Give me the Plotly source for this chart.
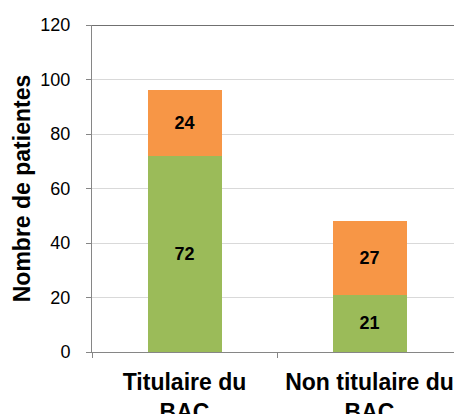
import plotly.graph_objects as go

categories = ["Titulaire du<br>BAC", "Non titulaire du<br>BAC"]
green_values = [72, 21]
orange_values = [24, 27]
y_ticks = [0, 20, 40, 60, 80, 100, 120]

font_family = "Liberation Sans, Arial, sans-serif"

fig = go.Figure()
for vals, color in ((green_values, "#9BBB59"), (orange_values, "#F79646")):
    fig.add_trace(go.Bar(
        x=categories, y=vals, marker=dict(color=color, line=dict(width=0)),
        text=[f"<b>{v}</b>" for v in vals], textposition="inside",
        insidetextanchor="middle", textangle=0,
        textfont=dict(color="black", size=18, family=font_family),
        width=0.4, showlegend=False,
    ))

fig.update_layout(
    barmode="stack",
    width=462, height=414,
    margin=dict(l=84, r=8, t=17, b=70),
    paper_bgcolor="white", plot_bgcolor="white",
    font=dict(family=font_family, color="black"),
    uniformtext=dict(minsize=10, mode="show"),
)
fig.update_yaxes(
    range=[0, 120], tickvals=y_ticks, showgrid=True, gridcolor="#D9D9D9", gridwidth=1,
    showline=True, linecolor="#868686", linewidth=1, ticks="outside", ticklen=5,
    tickcolor="#868686", tickfont=dict(size=18, color="black"), ticklabelstandoff=12,
    title=dict(text="<b>Nombre de patientes</b>", font=dict(size=23, color="black"), standoff=3),
    zeroline=False, automargin=False,
)
fig.update_xaxes(
    showline=True, linecolor="#868686", linewidth=1, ticks="outside", ticklen=5,
    tickcolor="#868686", tickson="boundaries", automargin=False, tickangle=0,
    tickfont=dict(size=23, color="black"), ticklabelstandoff=9,
    tickmode="array", tickvals=categories,
    ticktext=[f"<b>{c}</b>" for c in categories],
)
fig.add_shape(type="line", xref="paper", yref="y", x0=0, x1=1, y0=120, y1=120,
              line=dict(color="#404040", width=1.5))

fig.write_html("out.html")
